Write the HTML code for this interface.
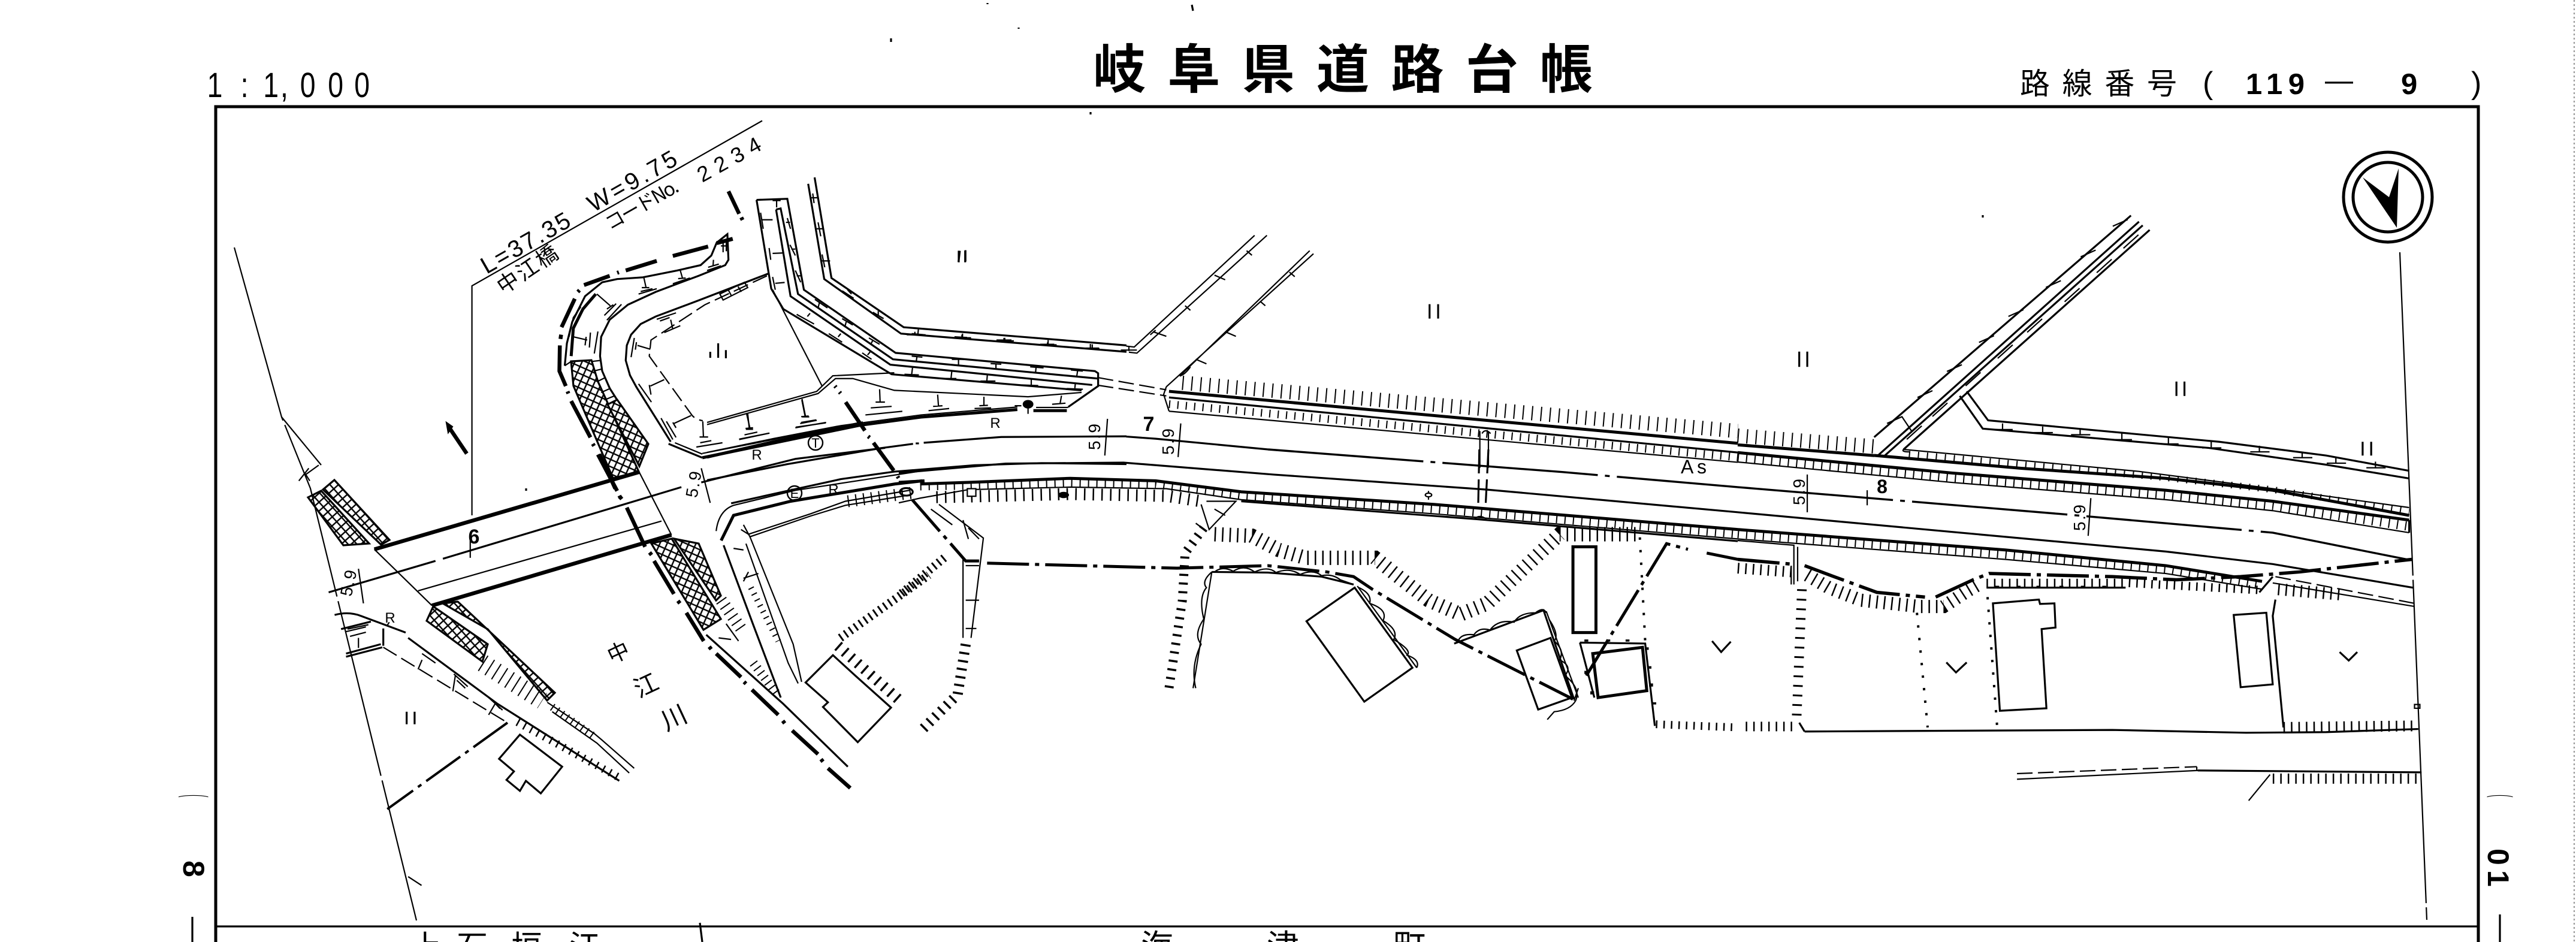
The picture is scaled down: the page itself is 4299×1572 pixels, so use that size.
<!DOCTYPE html>
<html><head><meta charset="utf-8"><style>
html,body{margin:0;padding:0;background:#fff}
svg{display:block}
path,line,polygon,circle,ellipse,rect{vector-effect:non-scaling-stroke}
g{fill:none;stroke:#000;stroke-width:2.2}
.m{stroke-width:3.2}.k{stroke-width:5}.x{stroke-width:6.5}
.dd{stroke-width:4;stroke-dasharray:70 10 7 10}
.cl{stroke-width:3.4;stroke-dasharray:260 12 8 12}
.ds{stroke-dasharray:26 9}
.dot{stroke-width:4;stroke-dasharray:4 17}
.lad{stroke-width:13;stroke-dasharray:2 12}
.tk{stroke-width:24;stroke-dasharray:2 13}
.tk2{stroke-width:18;stroke-dasharray:2.5 10}
.tk3{stroke-width:15;stroke-dasharray:3.5 11}
text{fill:#000;stroke:none;font-family:"Liberation Sans","Noto Sans CJK JP",sans-serif}
.j{font-family:"Noto Sans CJK JP","Liberation Sans",sans-serif}
</style></head><body>
<svg xmlns="http://www.w3.org/2000/svg" width="4299" height="1572" viewBox="0 0 4299 1572">
<defs>
<pattern id="p1" width="11" height="11" patternUnits="userSpaceOnUse" patternTransform="rotate(24)"><rect width="11" height="11" fill="#fff" stroke="#000" stroke-width="2.4" style="vector-effect:none"/></pattern>
<pattern id="p2" width="11" height="11" patternUnits="userSpaceOnUse" patternTransform="rotate(-42)"><rect width="11" height="11" fill="#fff" stroke="#000" stroke-width="2.4" style="vector-effect:none"/></pattern>
</defs>
<rect width="4299" height="1572" fill="#fff"/>

<!-- frame -->
<g>
<path class="k" d="M360 1572V178H4136V1572"/>
<path class="m" d="M360 1546H4136"/>
<path d="M4296 0V1572" stroke-dasharray="3 4" stroke="#999"/>
<path class="m" d="M321 1530V1572M4172 1526V1572"/>
<path d="M1168 1540L1172 1572" class="m"/>
<path class="m" d="M1989 8L1991 18M1820 187V191M3309 359V363M878 815V819M1487 64V70M2124 1 M1648 5V7M1700 46V48"/>
</g>

<!-- crosshatch bands -->
<g class="m">
<polygon fill="url(#p1)" points="953,603 987,601 998,637 1066,787 1023,798 957,644"/>
<polygon fill="url(#p1)" points="1014,675 1030,667 1082,741 1067,778"/>
<polygon fill="url(#p1)" points="1087,907 1121,899 1203,1033 1174,1051"/>
<polygon fill="url(#p1)" points="1125,899 1166,907 1203,994 1195,1002"/>
<polygon fill="url(#p2)" points="514,830 536,819 616,907 573,910"/>
<polygon fill="url(#p2)" points="539,817 558,801 650,901 636,909"/>
<polygon fill="url(#p2)" points="712,1036 723,1012 814,1075 805,1104"/>
<polygon fill="url(#p2)" points="739,1007 764,1004 926,1156 913,1169 814,1050"/>
</g>

<!-- real-coordinate long lines -->
<g>
<path d="M391 413L470 696L518 815L695 1536" stroke-dasharray="300 8"/>
<path d="M470 696L536 776"/>
<path d="M787.6 860V477L1272 201.5"/>
<path d="M4005 421L4050 1535" stroke-dasharray="540 7"/>
<path class="x" d="M748 711L779 757"/>
<polygon fill="#000" points="745,705 755,712 748,722"/>
</g>

<!-- north arrow -->
<g>
<ellipse cx="3985" cy="329" rx="74" ry="75" class="k"/>
<ellipse cx="3985" cy="329" rx="58" ry="58" class="k"/>
<polygon fill="#000" stroke="none" points="4003,281 3987,329 3943,296 4000,380"/>
</g>

<!-- Zoom 9 region -->
<g transform="translate(880,280) scale(.3571)">
<path class="x" d="M960 332L885 352M845 368L680 412M605 435L460 480M428 488L420 491M385 505L265 548M244 572L236 580M222 612L160 745M158 780L155 800M152 830L150 950L180 1020M188 1045L192 1055M205 1090L295 1260M306 1290L312 1300M330 1340L420 1510M430 1532L436 1544M940 110L990 215M1000 232L1006 244"/>
<path class="m" d="M175 925L185 820L210 720L270 600L350 535L420 520L540 512L700 480L810 455L860 410L885 350L935 310L940 430L925 455L800 505L600 580L470 640L385 710L345 790L340 880L350 950L385 1030L420 1085"/>
<path d="M175 925L205 905M195 790L215 700L250 650"/>
<path class="k" d="M205 880L215 750L260 660L320 590"/>
<path class="m" d="M1125 495L800 620L600 695L530 730L485 780L465 830L460 900L480 970L510 1025L670 1280"/>
<path class="m" d="M660 1290L818 1355"/><path d="M690 1285L818 1338"/>
<path class="k" d="M818 1355L1568 1200"/><path d="M818 1335L1568 1188"/>
<path class="ds" d="M1120 505L830 640L578 805L570 880L765 1150Q780 1175 820 1182"/>
<path d="M900 590L915 618L1030 560L1015 535ZM940 572L955 600M985 555L1000 580"/>
<path d="M302 905L345 900M310 950L350 940M325 1000L365 980M345 1050L390 1030M360 1085L410 1065"/>
<path d="M325 590L388 645M372 660L402 640M360 690L415 635M372 712L440 638M215 790L280 805M275 790L270 830M295 770L290 840M330 765L313 868M545 515L555 560M535 560L570 560M520 590L605 565M530 578L585 565M715 480L725 515M705 518L740 515M680 542L760 515M870 430L868 460M845 465L895 450M840 480L905 458M940 365L905 365M915 340V395M930 335V390M670 710L680 755M640 770L715 738M605 708L695 678M620 716L665 700M515 830L575 848M510 815L505 850M500 795L485 885M640 990L575 1020M570 1015L578 1060M520 1010L580 1095M765 1158L685 1195M680 1190L695 1215M650 1185L695 1260M625 1170L680 1270M820 1185L823 1255M805 1258H845M790 1305L912 1285M808 1285L860 1275M1025 1150L1040 1215M1020 1218L1055 1215M990 1268L1132 1240M1015 1248L1075 1235M1283 1085L1298 1160M1280 1163L1315 1160M1255 1212L1395 1192M1280 1190L1350 1178"/>
<path d="M855 860V888M892 820V888M928 852V890" class="m"/>
</g>

<!-- Zoom 10 region -->
<g transform="translate(1180,280) scale(.4464,.3571)">
<path class="m" d="M378 75L438 520L725 775L1568 860M402 45L465 515L735 745L1568 830"/>
<path class="m" d="M185 150L300 145L362 570L705 865L1450 950L1462 960V1020L1350 1118M185 150L240 565L285 660"/>
<path class="m" d="M258 195L275 190L340 590L695 895L1462 985M258 195L312 600L685 920L1440 1015M285 660L690 965L1400 1040"/>
<path d="M245 570L430 1020"/>
<path d="M0 1190L410 1045L470 972L700 958M0 1200L415 1055L480 985L545 985L700 1040L1200 1070L1400 1050"/>
<path class="k" d="M0 1352L250 1280L500 1215L800 1165L1160 1130M1220 1135H1345"/><path d="M0 1330L250 1265L500 1205L800 1155L1160 1118M1230 1120H1350"/>
<path class="x" d="M518 1095L590 1228M622 1285L698 1415M478 1020L482 1026M495 1048L499 1054M602 1255L608 1261M712 1442L716 1450"/>
<path class="m" d="M0 1460L300 1385L650 1310L770 1290M780 1288H792M810 1285L1100 1258L1568 1255"/>
<path class="m" d="M90 1568L300 1510L500 1455L700 1420L1000 1390L1250 1380L1568 1385"/>
<circle cx="1200" cy="1105" r="20" stroke-width="0" fill="#000"/>
<path d="M1200 1100V1150M1150 1112H1175"/>
<path d="M260 155V185M245 153H275M245 243L205 243M200 210L210 285M285 398L245 400M232 375L238 430M290 536L255 540M245 510L255 570M295 255H310M300 235L312 285M315 380H330M310 360L330 410M335 505H350M330 480L350 535M390 140H415M395 120L400 165M410 285H435M415 255L425 320M425 435H460M430 405L440 465M525 570L540 590M505 575L548 610M640 670V690M620 675L660 705M420 630L415 655M403 615L450 655M520 720L515 745M505 705L545 735M620 805L612 825M605 795L645 825M385 680L375 695M335 685L400 730M500 775L490 790M455 775L505 815M610 860L600 875M580 865L615 895M785 880L782 905M765 880L805 885M940 895V925M915 895H965M1080 918V940M1060 915L1100 918M1230 932L1228 958M1208 930L1258 935M1385 950L1382 975M1360 945L1405 950M768 935L765 965M738 965L792 968M915 950L912 985M882 985H932M1048 965L1046 995M1022 997H1078M1212 990V1015M1178 1015L1238 1018M1377 1005L1375 1030M1345 1032L1405 1035M645 1035L647 1095M630 1095H665M612 1122L690 1115M592 1155L730 1138M862 1060L865 1112M845 1115L880 1112M828 1135L905 1125M1035 1070V1110M1018 1112L1050 1110M1000 1125L1062 1122M1325 1065L1320 1100M1290 1105L1340 1100M790 755L788 780M765 775L810 780M955 775V795M925 790L972 793M1110 795V805M1082 805H1138M1275 805V825M1245 825H1298M1440 825V845M1415 843H1465M152 1150L158 1220M145 1222H172M120 1270L232 1240M355 1080L368 1162M355 1164H382M330 1215L445 1190M348 1195L410 1180"/>
<path d="M940 440L945 388M966 438V385" class="m"/>
</g>

<!-- Zoom 2 region -->
<g transform="translate(1500,0) scale(.8929,.5102)">
<path d="M425 1132L440 1135L665 770M430 1152L445 1155L688 770M525 1230L768 820M500 1265L775 830M525 1230Q535 1225 545 1200"/>
<path class="ds" d="M372 1235L500 1275M372 1260L500 1295"/>
<path d="M500 1265L495 1290L505 1345"/>
<path class="k" d="M505 1280L1568 1450"/><path class="m" d="M505 1300L1568 1480"/><path d="M505 1345L1568 1512"/>
<path class="lad" d="M505 1322L1568 1496"/>
<path class="tk" d="M530 1252L1568 1410"/>
<path class="m" d="M425 1428L480 1435L690 1470"/>
<path d="M390 1370L385 1490M527 1385L522 1495M1086 1410V1530M1102 1410V1530M1090 1418Q1096 1400 1106 1418M475 1085L500 1100M480 1080L470 1095M590 900L610 915M535 1000L545 1015M650 820L660 835M555 1175L575 1190M610 1085L630 1100M675 985L685 1000M730 890L740 905M30 1085V1095M118 1095V1108M198 1105V1118M278 1120V1130M358 1125V1140M430 1135V1148M15 1095H50M100 1105H135M182 1115H215M262 1128H295M345 1140H375M415 1145H445"/>
<path class="m" d="M112 820V858M124 820V858M992 995V1042M1008 995V1042"/>
</g>

<!-- Zoom 3 region -->
<g transform="translate(2900,0) scale(.8929,.5102)">
<path class="m" d="M255 1430L735 705M262 1490L750 725M275 1490L757 737M310 1470L770 752"/>
<path d="M310 1470Q305 1478 322 1478"/>
<path class="m" d="M415 1295L458 1402L880 1465L1100 1520L1255 1565M428 1280L468 1375L900 1445L1100 1490L1255 1540"/>
<path class="k" d="M0 1455L255 1490"/>
<path class="tk" d="M0 1425L255 1460"/>
<path d="M279 1385L307 1363L325 1410M336 1300L364 1278M391 1215L419 1193M451 1120L479 1098M506 1035L534 1013M576 940L604 918M641 840L669 818M701 740L729 718M316 1437L344 1393M364 1362L392 1318M426 1262L454 1218M486 1172L514 1128M541 1087L569 1043M611 987L639 943M671 892L699 848M721 812L749 768M495 1385V1405M478 1405H514M570 1395V1415M553 1415H589M640 1402V1422M623 1422H659M718 1418V1438M701 1438H737M805 1432V1452M788 1452H824M885 1445V1465M868 1465H904M975 1458V1478M958 1478H994M1055 1477V1497M1038 1497H1074M1118 1495V1515M1101 1515H1137M1192 1510V1530M1175 1530H1211"/>
<path class="m" d="M115 1150V1200M130 1150V1200M820 1248V1295M835 1248V1295M1168 1445V1490M1184 1445V1490"/>
</g>

<!-- Zoom 4 region -->
<g transform="translate(250,750) scale(.8291,.5242)">
<path class="x" d="M452 318L985 72M568 497L1050 272"/>
<path d="M452 318L568 497M985 72L1050 272M540 450L1030 228"/>
<path class="m" d="M360 455L575 355M590 348L1070 120M1110 105L1300 30L1480 -5"/>
<path class="x" d="M905 15L937 125M946 150L950 158M960 185L997 310M1006 328L1010 336M1015 355L1055 460M1063 482L1067 490M1080 520L1115 610M1126 628L1130 636M1140 650L1190 725M1196 740L1200 746M1212 765L1265 845M1274 864L1278 872M1293 895L1345 970M1351 986L1355 994M1365 1015L1410 1078"/>
<path class="m" d="M395 650L465 620M395 660L468 630M372 527Q400 515 425 530L515 583M385 572L445 548M470 570V625"/>
<path class="m" d="M520 600L700 810L890 1000L945 1055"/>
<path class="ds" d="M470 630L720 870"/>
<path class="dd" d="M720 870L478 1145"/>
<path class="tk2" d="M740 868L945 1045" style="stroke-width:13"/>
<path class="lad" d="M810 820L895 915" style="stroke-dasharray:2 8"/>
<path d="M800 805L895 905L910 925L975 1015M810 835L900 935L965 1030"/>
<path class="lad" d="M670 680L790 800" style="stroke-width:30;stroke-dasharray:2 11"/>
<path class="m" d="M745 908L830 1010L787 1095L757 1055L745 1087L718 1052L733 1025L703 985Z"/>
<path class="m" d="M1375 655L1420 720L1492 822L1425 932L1355 820L1365 805L1320 742Z"/>
<path class="k" d="M1150 290L1175 210L1290 165L1500 110L1555 100"/>
<path d="M1140 260Q1145 195 1175 178L1300 130L1568 65"/>
<path d="M1195 240L1208 278L1330 212L1400 178L1530 145M1190 255L1205 270L1330 205L1400 165L1530 130"/>
<path class="m" d="M1155 305L1215 560L1270 790M1120 590L1275 810L1405 1010"/><path d="M1200 300L1285 680L1305 745M1208 278L1295 620L1312 740"/>
<path class="lad" d="M1405 165L1535 138" style="stroke-width:20;stroke-dasharray:2 11"/>
<path class="lad" d="M1150 480L1190 570" style="stroke-dasharray:2 9;stroke-width:20"/>
<path class="lad" d="M1215 680L1265 785" style="stroke-dasharray:2 8;stroke-width:15"/>
<path class="lad" d="M1210 440L1265 610" style="stroke-dasharray:2 9;stroke-width:10"/>
<path class="tk3" d="M1385 625L1510 800" style="stroke-width:18"/>
<path class="tk3" d="M1390 600L1568 400" style="stroke-width:14;stroke-dasharray:3 7"/>
<path d="M420 380L430 490M1110 60L1128 170M645 290V345M520 1360L547 1388"/>
<path d="M420 600L420 632M395 580L435 565M398 572L440 558M403 595L435 582M340 50L312 82M320 60L300 100M312 75L322 100M548 670L540 700M555 640L585 675M548 650L575 680M615 720L610 770M612 715L640 755M618 735L635 760M695 810L682 845M682 790L710 830M690 800L705 825M1170 605L1145 600M1160 555L1185 610M1195 320L1175 315M1205 390L1195 420M1195 410L1225 395"/>
<path d="M482 550L478 560"/>
<path class="m" d="M517 835V875M533 835V875"/>
</g>

<!-- Zoom 5 region -->
<g transform="translate(1500,750) scale(.8929,.5242)">
<path class="m" d="M0 75L200 45L420 42L700 80L1100 128L1568 200"/>
<path class="cl" d="M690 0L1240 72L1568 120"/>
<path class="k" d="M40 110L130 105L320 92L480 100L640 135L1000 175L1568 255"/>
<path d="M0 170L40 155L130 128L320 120L500 125L640 160L1000 205L1568 285"/>
<path class="m" d="M640 165L1080 222L1568 292"/>
<path class="lad" d="M40 118L130 116L320 106L480 112L640 148L1000 190L1568 270"/>
<path class="tk" d="M70 152L130 150L320 142L500 148L565 165" style="stroke-width:20;stroke-dasharray:2.5 12"/>
<path class="m" d="M1085 0L1083 170M1102 0L1097 170" stroke-dasharray="40 10"/>
<path d="M1075 222Q1086 205 1098 222M990 132V160"/>
<circle cx="990" cy="145" r="6" fill="#fff"/><circle cx="308" cy="145" r="10" fill="#000" stroke="none"/>
<path d="M300 145H318"/>
<rect x="128" y="125" width="16" height="24" fill="#fff"/>
<circle cx="14" cy="135" r="12" class="m"/>
<path class="k" d="M0 105L48 100"/>
<path class="dd" d="M25 160L125 355L150 355M165 362L520 378L690 370L800 390L850 405L885 445L1040 605L1260 795" style="stroke-width:5"/>
<path class="dd" d="M1285 720L1435 300L1475 318M1510 330L1568 350" style="stroke-width:5"/>
<path d="M75 175L158 282L135 600M120 350V600" /><path d="M120 225L130 285M130 250L150 285M60 190L100 240M125 370H150M125 480H150M125 570H145"/>
<path d="M575 165L630 165L580 255L565 175M590 190L610 210M555 235L575 260"/>
<path class="tk2" d="M590 270L660 275L710 320L760 345L890 345L930 400L990 480L1050 525L1100 490L1170 375L1235 270L1380 270" style="stroke-width:24"/>
<path class="tk3" d="M570 250L535 330L530 480L505 760" style="stroke-width:15"/>
<path class="tk3" d="M125 620L110 780L45 890" style="stroke-width:17;stroke-dasharray:3.5 10"/>
<path class="tk3" d="M85 345L0 465" style="stroke-width:14;stroke-dasharray:3 7"/>
<path d="M585 390L550 760"/>
<path class="m" d="M585 390L690 392L790 405L850 430"/>
<path d="M585 390Q565 420 575 440Q560 470 570 540Q550 590 565 620Q545 690 555 760M590 390Q605 370 625 388Q645 365 665 390Q690 370 705 392Q730 375 750 398Q775 380 790 402Q810 395 825 415L850 430M860 440Q885 460 880 490Q915 510 905 545Q935 575 925 605Q960 640 950 655Q975 670 968 695"/>
<path class="m" d="M762 547L852 440L960 695L870 803Z"/><path d="M857 435L968 695"/>
<path class="m" d="M1038 618L1205 512L1262 795"/><path d="M1210 515L1270 790"/>
<path d="M1045 612Q1050 585 1075 590Q1085 565 1105 575Q1120 540 1150 550Q1160 520 1190 520Q1205 500 1210 520M1215 540Q1235 590 1225 610Q1245 640 1235 670Q1260 690 1245 720Q1275 760 1265 800Q1255 830 1225 835L1212 860M1270 760L1262 800"/>
<path class="m" d="M1155 640L1218 600L1258 790L1195 828Z"/>
<path class="k" d="M1297 650L1390 630L1398 768L1307 790Z"/>
<path class="m" d="M1273 615L1395 618L1413 880M1273 615L1300 790"/>
<path class="x" d="M1285 605V612M1326 605V612M1362 605V612M1398 630V638M1403 690V698M1406 745V755M1412 805V812M1285 705V715M1296 770V780"/>
<path class="k" d="M1260 310H1303V583H1260Z"/>
<path class="dot" d="M1385 280L1395 610"/>
<path class="tk2" d="M1415 875L1568 885" style="stroke-width:13"/>
<path d="M1520 610L1537 645L1555 612" class="m"/>
</g>

<!-- Zoom 6 region -->
<g transform="translate(2900,750) scale(.8929,.5242)">
<path d="M310 0L750 70L1000 125L1255 185"/>
<path class="k" d="M255 19L530 60L800 92L1000 130L1255 210"/>
<path class="lad" d="M320 15L530 48L800 90L1000 128L1255 198" style="stroke-width:11;stroke-dasharray:2 13"/>
<path class="k" d="M0 10L400 75L800 130L1000 165L1255 225"/>
<path d="M0 40L400 105L800 160L1000 195L1255 265"/>
<path class="m" d="M1255 225V265"/>
<path class="lad" d="M0 25L400 90L800 145L1000 180L1255 245" style="stroke-width:15"/>
<path class="cl" d="M0 120L600 205L1000 265L1250 350"/>
<path class="m" d="M0 200L800 325L1000 365L1262 440"/>
<path class="k" d="M0 255L500 320L800 370L980 420"/>
<path d="M0 285L500 350L800 395L980 445"/>
<path class="lad" d="M0 270L500 335L800 382L980 432"/>
<path class="m" d="M975 455L1000 405"/>
<path class="ds" d="M1005 405L1265 490"/><path d="M1000 425L1265 500"/>
<path d="M0 290L105 305V430M112 310V420M100 370V430"/>
<path class="dd" d="M0 350L100 365M125 370L180 405L260 455L350 470M370 470L440 415L470 395L700 405L820 415L940 405L1050 390L1260 350" style="stroke-width:5.5"/>
<path class="tk2" d="M130 400L170 440L230 480L340 500L385 500L430 450L455 425" style="stroke-width:22"/>
<path class="tk2" d="M465 425L730 425L980 448" style="stroke-width:14"/>
<path class="tk2" d="M0 378L100 390" style="stroke-width:18"/>
<path class="tk2" d="M1010 445L1130 462" style="stroke-width:20"/>
<path class="tk3" d="M120 445L110 860" style="stroke-width:16;stroke-dasharray:3 13"/>
<path class="dot" d="M335 520L355 885M467 470L485 885"/>
<path class="m" d="M125 898L700 893L950 902L1100 900L1272 890M115 870L125 898"/>
<path class="tk2" d="M15 882L105 882" style="stroke-width:16"/>
<path class="tk2" d="M1020 885L1272 880" style="stroke-width:18"/>
<path class="m" d="M465 440H725"/>
<path class="x" d="M485 434V440M525 434V440M562 434V440M605 434V440M645 434V440M685 434V440"/>
<path class="m" d="M477 490L563 478L565 492L592 490L594 567L568 572L577 824L490 832Z"/>
<path class="m" d="M927 527L988 520L1000 748L940 757Z"/>
<path class="m" d="M1005 478L1000 530L1020 885"/>
<rect x="1265" y="812" width="10" height="12"/>
<path class="ds" d="M522 1032L858 1010"/><path d="M858 1010V1022M522 1050L860 1022L1278 1028"/>
<path class="m" d="M860 1022L1278 1028"/>
<path class="tk2" d="M1000 1048L1278 1048" style="stroke-width:17"/>
<path d="M955 1118L995 1035M130 80L130 200M660 155L655 275M242 130V178"/>
<path d="M390 678L408 710L428 678M1125 645L1142 672L1158 645" class="m"/>
</g>

<!-- labels -->
<text transform="scale(.8,1)" y="162" font-size="58" x="432 502 549 585 626 684 739">1:1,000</text>
<text class="j" x="1824" y="147" font-size="88" font-weight="bold" textLength="834" lengthAdjust="spacing">岐阜県道路台帳</text>
<text class="j" x="3371" y="157" font-size="50" textLength="262" lengthAdjust="spacing">路線番号</text>
<text x="3676" y="156" font-size="52">(</text>
<text x="3748" y="157" font-size="49" font-weight="bold" textLength="98" lengthAdjust="spacing">119</text>
<text x="3880" y="150" font-size="48" textLength="47" lengthAdjust="spacingAndGlyphs">—</text>
<text x="4007" y="157" font-size="49" font-weight="bold">9</text>
<text x="4124" y="156" font-size="52">)</text>

<text transform="translate(812,458) rotate(-29.7)" font-size="40" textLength="165" lengthAdjust="spacing">L=37.35</text>
<text transform="translate(990,355) rotate(-29.7)" font-size="40" textLength="165" lengthAdjust="spacing">W=9.75</text>
<text class="j" transform="translate(840,492) rotate(-34)" font-size="36" textLength="114" lengthAdjust="spacing">中江橋</text>
<text class="j" transform="translate(1018,385) rotate(-29.7)" font-size="32" textLength="135" lengthAdjust="spacing">コードNo.</text>
<text transform="translate(1172,305) rotate(-29)" font-size="36" textLength="116" lengthAdjust="spacing">2234</text>

<text x="791" y="907" font-size="34" font-weight="bold" text-anchor="middle">6</text>
<text x="1917" y="719" font-size="34" font-weight="bold" text-anchor="middle">7</text>
<text x="3141" y="823" font-size="32" font-weight="bold" text-anchor="middle">8</text>
<text x="2805" y="790" font-size="32" textLength="43" lengthAdjust="spacing">As</text>

<text x="1263" y="767" font-size="24" text-anchor="middle">R</text>
<text x="1661" y="714" font-size="24" text-anchor="middle">R</text>
<text x="1391" y="825" font-size="24" text-anchor="middle">R</text>
<text x="651" y="1039" font-size="24" text-anchor="middle">R</text>
<circle cx="1361" cy="739" r="12" fill="none" stroke="#000" stroke-width="2.4"/>
<text x="1361" y="747" font-size="22" text-anchor="middle">T</text>
<circle cx="1326" cy="823" r="12" fill="none" stroke="#000" stroke-width="2.4"/>
<text x="1326" y="831" font-size="22" text-anchor="middle">E</text>

<text transform="translate(1836,729) rotate(-90)" font-size="28" text-anchor="middle" textLength="44">5.9</text>
<text transform="translate(1959,737) rotate(-90)" font-size="28" text-anchor="middle" textLength="44">5.9</text>
<text transform="translate(591,975) rotate(-78)" font-size="28" text-anchor="middle" textLength="44">5.9</text>
<text transform="translate(1167,810) rotate(-80)" font-size="28" text-anchor="middle" textLength="44">5.9</text>
<text transform="translate(3012,821) rotate(-90)" font-size="28" text-anchor="middle" textLength="44">5.9</text>
<text transform="translate(3480,864) rotate(-90)" font-size="28" text-anchor="middle" textLength="44">5.9</text>

<text class="j" transform="translate(1021,1108) rotate(-25)" font-size="36">中</text>
<text class="j" transform="translate(1066,1165) rotate(-25)" font-size="40">江</text>
<text class="j" transform="translate(1112,1220) rotate(-25)" font-size="42">川</text>

<text transform="translate(309,1326) rotate(90) scale(.6,2.4)" font-size="22">(</text>
<text transform="translate(306,1436) rotate(90)" font-size="50" font-weight="bold">8</text>
<text transform="translate(4160,1326) rotate(90) scale(.6,2.1)" font-size="22">(</text>
<text transform="translate(4152,1416) rotate(90)" font-size="50" font-weight="bold">0</text>
<text transform="translate(4152,1452) rotate(90)" font-size="50" font-weight="bold">1</text>

<text class="j" x="685" y="1598" font-size="52">上</text>
<text class="j" x="762" y="1598" font-size="52">石</text>
<text class="j" x="853" y="1598" font-size="52">垣</text>
<text class="j" x="950" y="1598" font-size="52">江</text>
<text class="j" x="1904" y="1598" font-size="54">海</text>
<text class="j" x="2114" y="1598" font-size="54">津</text>
<text class="j" x="2325" y="1598" font-size="54">町</text>
</svg>
</body></html>
